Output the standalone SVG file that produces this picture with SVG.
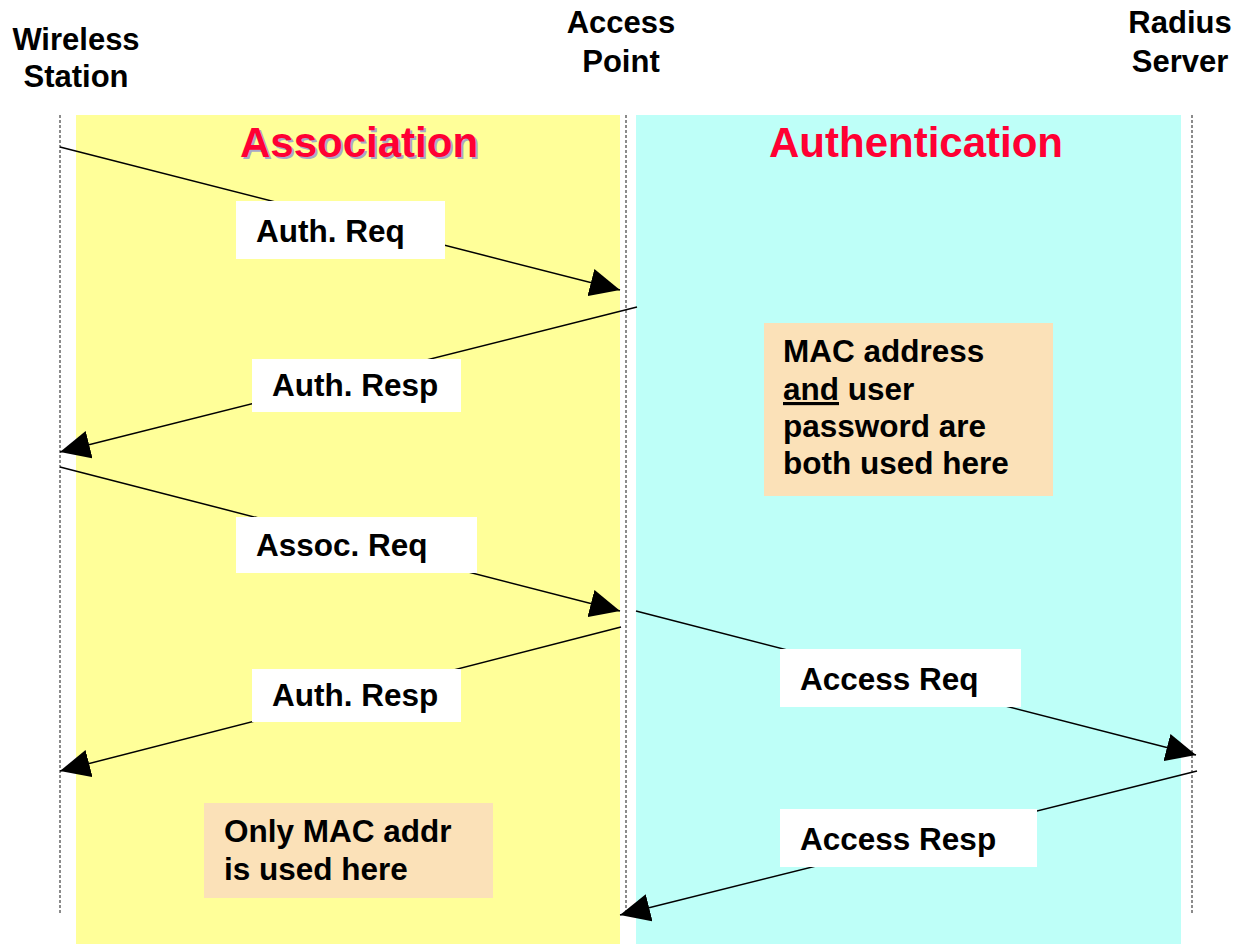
<svg xmlns="http://www.w3.org/2000/svg" width="1246" height="944" viewBox="0 0 1246 944">
  <style>
    text { font-family: "Liberation Sans", Arial, sans-serif; font-weight: bold; }
    .hdr { font-size: 31px; fill: #000; text-anchor: middle; }
    .lbl { font-size: 31.5px; fill: #000; }
    .phase { font-size: 42px; fill: #FF0033; }
    .shadow { font-size: 42px; fill: #A8A8C8; }
    .life { stroke: #666; stroke-width: 1.5; stroke-dasharray: 3 2; fill: none; }
    .msg { stroke: #000; stroke-width: 1.5; fill: none; marker-end: url(#arrow); }
    .tag { fill: #FFFFFF; }
    .note { fill: #FBE1B8; }
  </style>
  <defs>
    <marker id="arrow" viewBox="0 0 30 28" refX="30" refY="14" markerWidth="30" markerHeight="28" markerUnits="userSpaceOnUse" orient="auto">
      <path d="M0,0 L30,14 L0,28 z" fill="#000"/>
    </marker>
  </defs>

  <rect width="1246" height="944" fill="#FFFFFF"/>

  <!-- phase panels -->
  <g id="association">
    <rect x="76" y="115" width="544" height="829" fill="#FFFF99"/>
    <text class="shadow" x="242" y="159">Association</text>
    <text class="phase" x="240" y="157">Association</text>
  </g>
  <g id="authentication">
    <rect x="636" y="115" width="545" height="829" fill="#BEFFF8"/>
    <text class="phase" x="769" y="157">Authentication</text>
  </g>

  <!-- participants -->
  <g id="wireless-station">
    <text class="hdr" x="76" y="50">Wireless</text>
    <text class="hdr" x="76" y="87">Station</text>
    <line class="life" x1="60" y1="115" x2="60" y2="915"/>
  </g>
  <g id="access-point">
    <text class="hdr" x="621" y="33">Access</text>
    <text class="hdr" x="621" y="72">Point</text>
    <line class="life" x1="626" y1="115" x2="626" y2="912"/>
  </g>
  <g id="radius-server">
    <text class="hdr" x="1180" y="33">Radius</text>
    <text class="hdr" x="1180" y="72">Server</text>
    <line class="life" x1="1192" y1="115" x2="1192" y2="915"/>
  </g>

  <!-- messages -->
  <g id="connectors">
    <line class="msg" x1="60" y1="147" x2="620" y2="290"/>
    <line class="msg" x1="637" y1="307" x2="60" y2="452"/>
    <line class="msg" x1="60" y1="467" x2="620" y2="611"/>
    <line class="msg" x1="621" y1="627" x2="60" y2="771"/>
    <line class="msg" x1="636" y1="611" x2="1196" y2="755"/>
    <line class="msg" x1="1197" y1="771" x2="620" y2="915"/>

    <rect class="tag" x="236" y="201" width="209" height="58"/>
    <text class="lbl" x="256" y="242">Auth. Req</text>
    <rect class="tag" x="252" y="359" width="209" height="53"/>
    <text class="lbl" x="272" y="396">Auth. Resp</text>
    <rect class="tag" x="236" y="517" width="241" height="56"/>
    <text class="lbl" x="256" y="556">Assoc. Req</text>
    <rect class="tag" x="252" y="669" width="209" height="53"/>
    <text class="lbl" x="272" y="706">Auth. Resp</text>
    <rect class="tag" x="780" y="649" width="241" height="58"/>
    <text class="lbl" x="800" y="690">Access Req</text>
    <rect class="tag" x="780" y="809" width="257" height="58"/>
    <text class="lbl" x="800" y="850">Access Resp</text>
  </g>

  <!-- notes -->
  <g id="note-auth">
    <rect class="note" x="764" y="323" width="289" height="173"/>
    <text class="lbl" x="783" y="362">MAC address</text>
    <text class="lbl" x="783" y="400"><tspan text-decoration="underline">and</tspan> user</text>
    <text class="lbl" x="783" y="437">password are</text>
    <text class="lbl" x="783" y="474">both used here</text>
  </g>
  <g id="note-assoc">
    <rect class="note" x="204" y="803" width="289" height="95"/>
    <text class="lbl" x="224" y="842">Only MAC addr</text>
    <text class="lbl" x="224" y="880">is used here</text>
  </g>
</svg>
